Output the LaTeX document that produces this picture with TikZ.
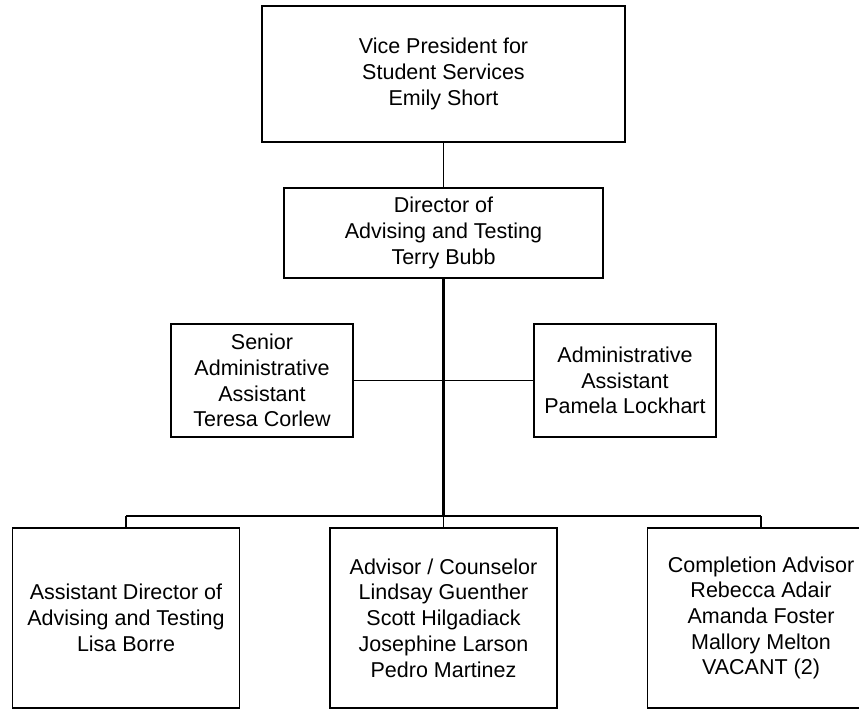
\documentclass[tikz,border=0pt]{standalone}
\usepackage{fontspec}
\setmainfont{Liberation Sans}
\begin{document}
\begin{tikzpicture}[x=1pt,y=-1pt,
 box/.style={draw, line width=1.5pt, align=center, inner sep=0pt, font=\fontsize{21.5}{25.7}\selectfont},
 conn/.style={line width=1.5pt},
 trunk/.style={line width=2.5pt}]
\useasboundingbox (0,0) rectangle (859,709);
\node[box, minimum width=363pt, minimum height=136pt] (vp) at (443.5,74) {Vice President for\\Student Services\\Emily Short};
\node[box, minimum width=319pt, minimum height=90pt] (dir) at (443.5,233) {Director of\\Advising and Testing\\Terry Bubb};
\node[box, minimum width=182pt, minimum height=113pt] (sen) at (262,380.5) {Senior\\Administrative\\Assistant\\Teresa Corlew};
\node[box, minimum width=182pt, minimum height=113pt] (adm) at (625,380.5) {Administrative\\Assistant\\Pamela Lockhart};
\node[box, minimum width=227pt, minimum height=180pt] (ad) at (126,618) {Assistant Director of\\Advising and Testing\\Lisa Borre};
\node[box, minimum width=227pt, minimum height=180pt] (ac) at (443.5,618) {Advisor / Counselor\\Lindsay Guenther\\Scott Hilgadiack\\Josephine Larson\\Pedro Martinez};
\node[box, minimum width=227pt, minimum height=180pt] (ca) at (761,618) {Completion Advisor\\Rebecca Adair\\Amanda Foster\\Mallory Melton\\VACANT (2)};
\coordinate (bus) at (443.5,516);
\coordinate (busL) at (126,516);
\coordinate (busR) at (761,516);
\draw[conn] (vp.south) -- (dir.north);
\draw[trunk] (dir.south) -- (bus);
\draw[conn] (sen.east) -- (adm.west);
\draw[line width=2pt] (busL) -- (busR);
\draw[conn] (busL) -- (ad.north);
\draw[conn] (bus) -- (ac.north);
\draw[conn] (busR) -- (ca.north);
\end{tikzpicture}
\end{document}
